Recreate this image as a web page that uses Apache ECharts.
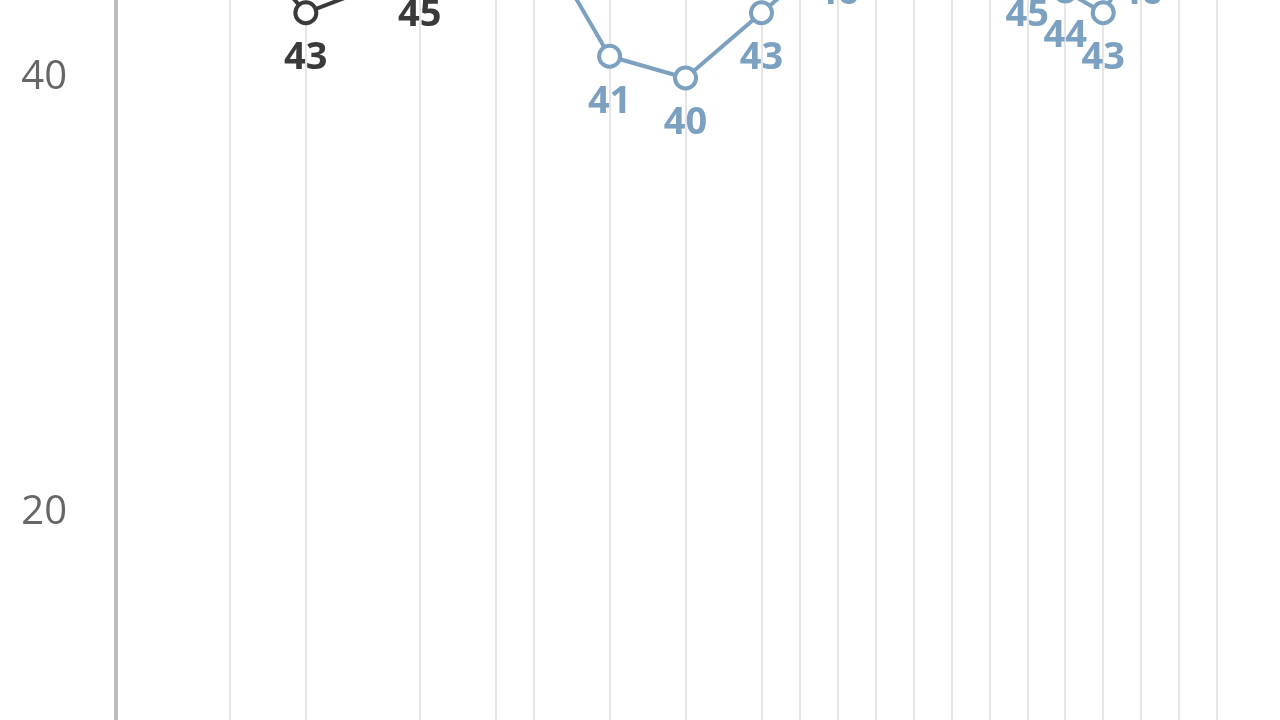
<!DOCTYPE html>
<html>
<head>
<meta charset="utf-8">
<script src="https://cdn.jsdelivr.net/npm/echarts@6/dist/echarts.min.js"></script>
<style>
  html, body { margin: 0; padding: 0; background: #fff; }
  #chart { width: 1280px; height: 720px; }
</style>
</head>
<body>
<div id="chart"></div>
<script>
// x categories (the axis labels sit below the visible area)
const categories = ['1', '2', '3', '4', '5', '6', '7', '8', '9', '10', '11', '12', '13', '14', '15', '16', '17',
  '18', '19', '20', '21', '22', '23', '24', '25', '26', '27', '28', '29', '30', '31', '32', '33', '34'];

// dark series, null = no point
const darkValues = [null, null, null, 47, null, 43, null, null, 45, null, 49, null, null, null, null, null, null,
  null, 50, null, null, 50, null, 49, null, null, null, null, 50, null, null, null, null, null];

// blue series
const blueValues = [null, null, null, null, null, null, null, null, null, null, null, 47, null, 41, null, 40, null,
  43, null, 46, 48, null, 49, null, 45, 44, 43, 46, null, 48, null, null, null, null];

const yTicks = { min: 0, max: 60, step: 20 };

const chart = echarts.init(document.getElementById('chart'));

// vertical grid lines only where a point exists
const hasPoint = (i) => darkValues[i] != null || blueValues[i] != null;

const makeSeries = (name, values, color) => ({
  name: name,
  type: 'line',
  data: values,
  connectNulls: true,
  symbol: 'circle',
  symbolSize: 21,
  itemStyle: { color: '#fff', borderColor: color, borderWidth: 4 },
  lineStyle: { color: color, width: 4 },
  label: {
    show: true,
    position: 'bottom',
    distance: 14,
    color: color,
    fontFamily: 'Open Sans',
    fontWeight: 'bold',
    fontSize: 38
  },
  z: 3
});

const option = {
  animation: false,
  backgroundColor: '#fff',
  grid: {
    left: 116,
    right: -89,
    top: -357,
    bottom: -228,
    containLabel: false,
    outerBoundsMode: 'none'
  },
  xAxis: {
    type: 'category',
    data: categories,
    boundaryGap: false,
    axisLine: { show: false },
    axisTick: { show: false },
    axisLabel: { show: false },
    splitLine: {
      show: true,
      interval: (i) => i > 0 && hasPoint(i),
      lineStyle: { color: '#dedede', width: 1.5 }
    }
  },
  yAxis: {
    type: 'value',
    min: yTicks.min,
    max: yTicks.max,
    interval: yTicks.step,
    axisLine: { show: true, lineStyle: { color: '#bdbdbd', width: 4 } },
    axisTick: { show: false },
    splitLine: { show: false },
    axisLabel: {
      margin: 49,
      color: '#666',
      fontFamily: 'Open Sans',
      fontSize: 40
    }
  },
  series: [
    makeSeries('dark', darkValues, '#3a3a3a'),
    makeSeries('blue', blueValues, '#7ba0c0')
  ]
};

chart.setOption(option);
</script>
</body>
</html>
